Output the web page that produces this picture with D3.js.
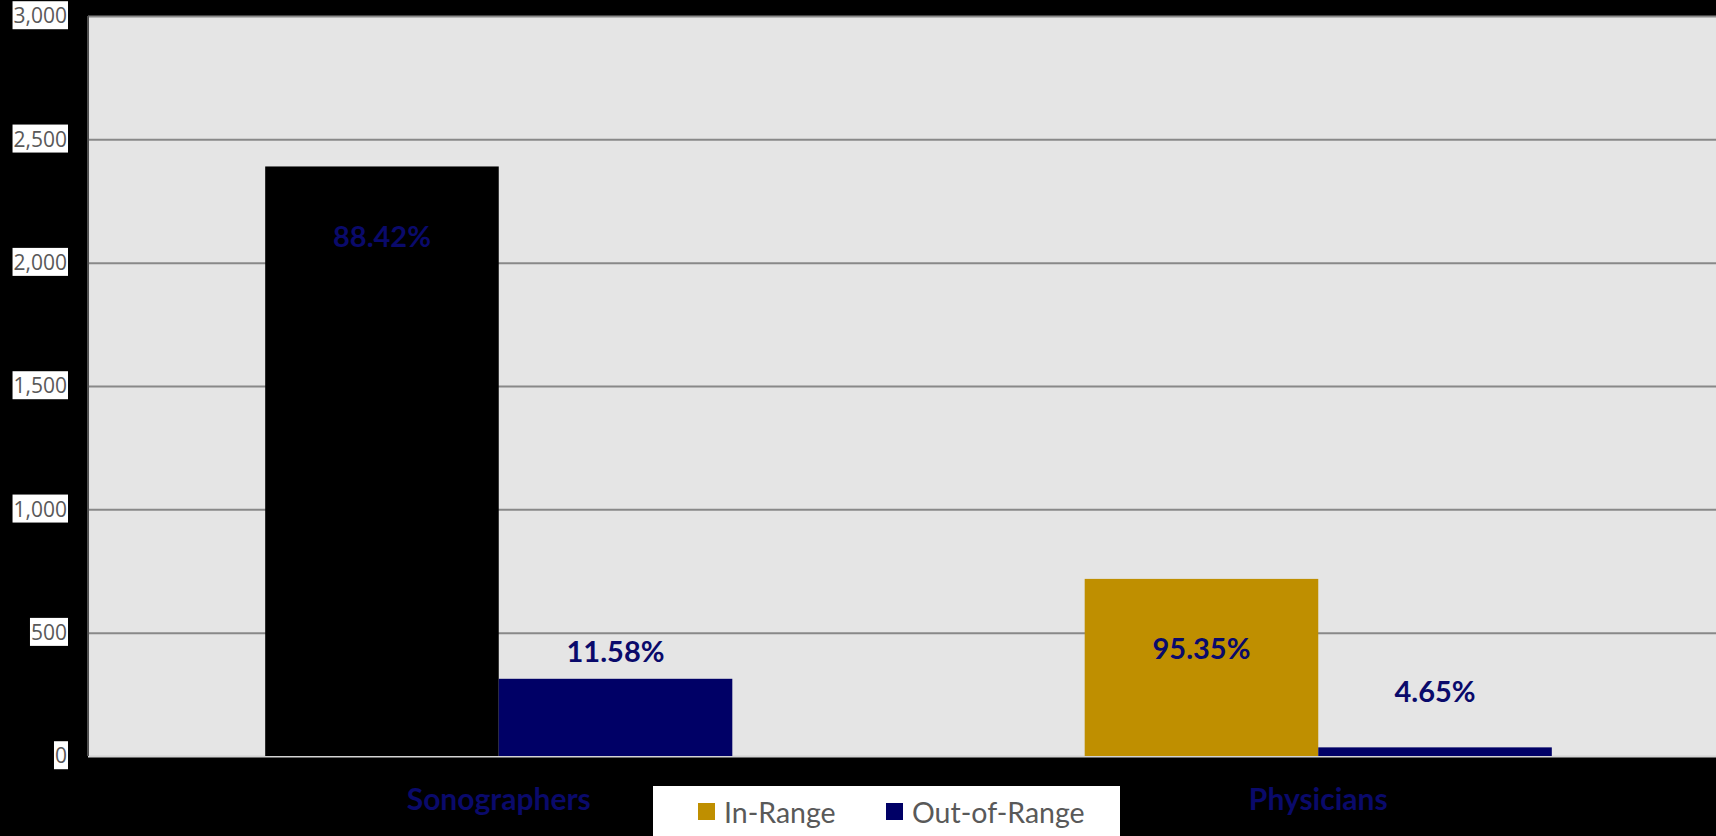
<!DOCTYPE html>
<html>
<head>
<meta charset="utf-8">
<script src="https://cdn.jsdelivr.net/npm/d3@7"></script>
<style>
  body { margin: 0; background: #000; }
  svg { display: block; }
</style>
</head>
<body>
<div id="chart"></div>
<script>
const width = 1716, height = 836;
const margins = { top: 16, right: 0, bottom: 80, left: 88 };

// data
const categories = ["Sonographers", "Physicians"];
const seriesNames = ["In-Range", "Out-of-Range"];
const inRange = [2390, 718];
const outOfRange = [313, 35];
const inRangeLabels = ["88.42%", "95.35%"];
const outOfRangeLabels = ["11.58%", "4.65%"];
const yTicks = [0, 500, 1000, 1500, 2000, 2500, 3000];

const seriesColor = { "In-Range": "#BF8F00", "Out-of-Range": "#000066" };
const labelColor = "#0A0A6B";

const svg = d3.select("#chart")
    .append("svg")
    .attr("width", width)
    .attr("height", height);

svg.append("rect")
    .attr("width", width).attr("height", height)
    .attr("fill", "#000");

const y = d3.scaleLinear()
    .domain([0, 3000])
    .range([height - margins.bottom, margins.top]);

const x0 = d3.scaleBand()
    .domain(categories)
    .range([margins.left + 1, 1728])
    .paddingInner(0.43)
    .paddingOuter(0.215);

const x1 = d3.scaleBand()
    .domain(seriesNames)
    .range([0, x0.bandwidth()]);

// plot area
svg.append("rect")
    .attr("x", margins.left)
    .attr("y", y(3000))
    .attr("width", width - margins.left)
    .attr("height", y(0) - y(3000))
    .attr("fill", "#E5E5E5");

// gridlines
const grid = svg.append("g")
    .attr("transform", `translate(${margins.left},0)`)
    .call(d3.axisLeft(y).tickValues(yTicks).tickSize(-(width - margins.left)).tickFormat(""));
grid.select(".domain").remove();
grid.selectAll(".tick line")
    .attr("stroke", d => d === 0 ? "#D4D4D4" : "#888")
    .attr("stroke-width", 2);

// bars
const rows = categories.map((c, i) => ({
    category: c,
    values: [
        { series: "In-Range", value: inRange[i], label: inRangeLabels[i] },
        { series: "Out-of-Range", value: outOfRange[i], label: outOfRangeLabels[i] }
    ]
}));

const groups = svg.append("g")
    .selectAll("g")
    .data(rows)
    .join("g")
    .attr("transform", d => `translate(${x0(d.category)},0)`);

groups.selectAll("rect")
    .data(d => d.values.map(v => ({ ...v, category: d.category })))
    .join("rect")
    .attr("x", d => x1(d.series))
    .attr("y", d => y(d.value))
    .attr("width", x1.bandwidth())
    .attr("height", d => y(0) - y(d.value))
    // the Sonographers in-range bar is drawn black in the original
    .attr("fill", d => d.category === "Sonographers" && d.series === "In-Range" ? "#000" : seriesColor[d.series]);

// data labels (manually placed in the original)
const outLabelLift = { Sonographers: 28, Physicians: 57 };
groups.selectAll("text.value")
    .data(d => d.values.map(v => ({ ...v, category: d.category })))
    .join("text")
    .attr("class", "value")
    .attr("x", d => x1(d.series) + x1.bandwidth() / 2)
    .attr("y", d => d.series === "In-Range" ? y(d.value) + 69 : y(d.value) - outLabelLift[d.category])
    .attr("text-anchor", "middle")
    .attr("dominant-baseline", "central")
    .attr("font-family", "Lato, sans-serif")
    .attr("font-weight", "bold")
    .attr("font-size", 29)
    .attr("fill", labelColor)
    .text(d => d.label);

// left axis line
svg.append("line")
    .attr("x1", margins.left).attr("x2", margins.left)
    .attr("y1", y(3000)).attr("y2", y(0))
    .attr("stroke", "#505050")
    .attr("stroke-width", 2);

// y tick labels on white boxes
const yAxis = svg.append("g")
    .attr("transform", `translate(${margins.left},0)`)
    .call(d3.axisLeft(y).tickValues(yTicks).tickSize(0).tickPadding(21).tickFormat(d3.format(",")));
yAxis.select(".domain").remove();
yAxis.selectAll(".tick text")
    .attr("font-family", "'Open Sans', sans-serif")
    .attr("font-size", 21)
    .attr("fill", "#595959");
yAxis.selectAll(".tick").each(function () {
    const t = d3.select(this).select("text");
    const b = t.node().getBBox();
    d3.select(this).insert("rect", "text")
        .attr("x", b.x - 1)
        .attr("y", b.y)
        .attr("width", b.width + 2)
        .attr("height", b.height)
        .attr("fill", "#fff");
});

// category labels
svg.append("g")
    .selectAll("text")
    .data(categories)
    .join("text")
    .attr("x", d => x0(d) + x0.bandwidth() / 2)
    .attr("y", 798)
    .attr("text-anchor", "middle")
    .attr("dominant-baseline", "central")
    .attr("font-family", "Lato, sans-serif")
    .attr("font-weight", "bold")
    .attr("font-size", 30)
    .attr("fill", labelColor)
    .text(d => d);

// legend
const legend = svg.append("g");
legend.append("rect")
    .attr("x", 653).attr("y", 786)
    .attr("width", 467).attr("height", 50)
    .attr("fill", "#fff");
const legendX = [698, 886];
const items = legend.selectAll("g")
    .data(seriesNames)
    .join("g")
    .attr("transform", (d, i) => `translate(${legendX[i]},803)`);
items.append("rect")
    .attr("width", 17).attr("height", 17)
    .attr("fill", d => seriesColor[d]);
items.append("text")
    .attr("x", 26)
    .attr("y", 9)
    .attr("dominant-baseline", "central")
    .attr("font-family", "Lato, sans-serif")
    .attr("font-size", 28.5)
    .attr("fill", "#595959")
    .text(d => d);
</script>
</body>
</html>
